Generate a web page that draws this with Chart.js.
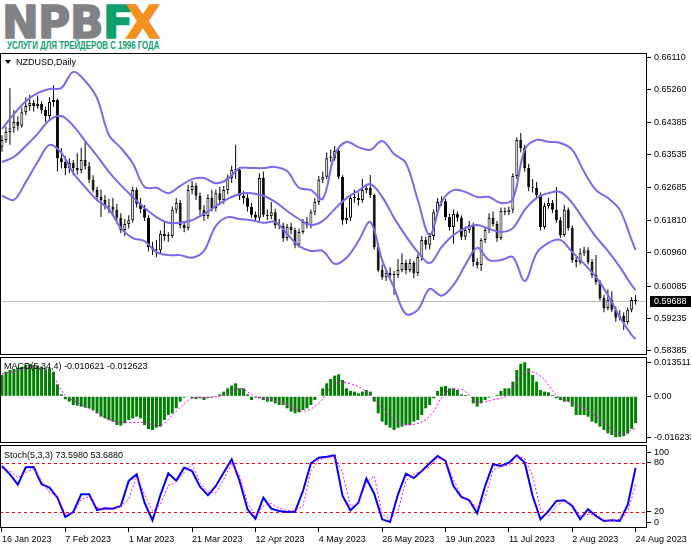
<!DOCTYPE html>
<html lang="ru">
<head>
<meta charset="utf-8">
<title>NZDUSD Daily</title>
<script src="https://cdn.jsdelivr.net/npm/chart.js@4.4.1/dist/chart.umd.min.js"></script>
<style>
  html, body { margin: 0; padding: 0; background: #fff; }
  body { position: relative; width: 691px; height: 549px; overflow: hidden; font-family: 'Liberation Sans', Arial, sans-serif; }
  canvas { position: absolute; left: 0; }
  #chart-main { top: 53px; }
  #chart-macd { top: 357px; }
  #chart-stoch { top: 445px; }
  .lt { position: absolute; top: 1px; font: bold 44px/44px 'DejaVu Sans', sans-serif; color: #808285; -webkit-text-stroke: 1.6px #808285; }
  .lt.f { color: #0e9f6e; -webkit-text-stroke-color: #0e9f6e; }
  .lt.x { color: #f4901e; -webkit-text-stroke-color: #f4901e; }
  .slogan { position: absolute; left: 7px; top: 40px; font: bold 11.5px/11px 'Liberation Sans', Arial, sans-serif; color: #0e9f6e; transform: scaleX(0.685); transform-origin: 0 0; white-space: nowrap; }
  .tag { position: absolute; font-size: 9px; line-height: 9px; color: #000; white-space: nowrap; z-index: 2; }
  .tri { position: absolute; left: 5px; top: 60px; width: 0; height: 0; border-left: 3px solid transparent; border-right: 3px solid transparent; border-top: 4px solid #000; z-index: 2; }
</style>
</head>
<body>
<div class="lt" style="left:2px">N</div>
<div class="lt" style="left:38px">P</div>
<div class="lt" style="left:70px">B</div>
<div class="lt f" style="left:103px">F</div>
<div class="lt x" style="left:126px">X</div>
<div class="slogan">УСЛУГИ ДЛЯ ТРЕЙДЕРОВ С 1996 ГОДА</div>

<canvas id="chart-main" width="691" height="302"></canvas>
<canvas id="chart-macd" width="691" height="86"></canvas>
<canvas id="chart-stoch" width="691" height="104"></canvas>

<div class="tri"></div>
<div class="tag" style="left:16px;top:58px">NZDUSD,Daily</div>
<div class="tag" style="left:4px;top:362px">MACD(5,34,4) -0.010621 -0.012623</div>
<div class="tag" style="left:4px;top:451px">Stoch(5,3,3) 73.5980 53.6880</div>

<script>
/**
 * NZDUSD Daily — velas + Bollinger, MACD(5,34,4) y Stoch(5,3,3), todo con Chart.js.
 * Las velas son barras flotantes: mecha [low, high] y cuerpo [open, close].
 */

// eje de tiempo: índice de barra y fechas rotuladas
const dateTickBars = [0, 16, 32, 48, 64, 80, 96, 112, 128, 144, 160];
const dateLabels = ['16 Jan 2023', '7 Feb 2023', '1 Mar 2023', '21 Mar 2023', '12 Apr 2023', '4 May 2023',
  '26 May 2023', '19 Jun 2023', '11 Jul 2023', '2 Aug 2023', '24 Aug 2023'];

const opens = [
  0.6375, 0.6393, 0.6414, 0.6424, 0.6440, 0.6430, 0.6466, 0.6482, 0.6490, 0.6482,
  0.6488, 0.6472, 0.6456, 0.6493, 0.6498, 0.6345, 0.6335, 0.6319, 0.6332, 0.6319,
  0.6314, 0.6340, 0.6324, 0.6288, 0.6261, 0.6243, 0.6235, 0.6219, 0.6217, 0.6209,
  0.6188, 0.6156, 0.6172, 0.6182, 0.6261, 0.6225, 0.6211, 0.6188, 0.6111, 0.6105,
  0.6103, 0.6146, 0.6140, 0.6140, 0.6209, 0.6227, 0.6169, 0.6161, 0.6261, 0.6272,
  0.6246, 0.6209, 0.6193, 0.6240, 0.6214, 0.6253, 0.6235, 0.6261, 0.6293, 0.6314,
  0.6314, 0.6246, 0.6240, 0.6217, 0.6196, 0.6188, 0.6293, 0.6196, 0.6193, 0.6203,
  0.6169, 0.6167, 0.6135, 0.6164, 0.6156, 0.6117, 0.6151, 0.6177, 0.6169, 0.6203,
  0.6230, 0.6288, 0.6296, 0.6345, 0.6345, 0.6364, 0.6296, 0.6182, 0.6188, 0.6240,
  0.6240, 0.6235, 0.6261, 0.6267, 0.6248, 0.6111, 0.6051, 0.6032, 0.6043, 0.6038,
  0.6038, 0.6051, 0.6069, 0.6051, 0.6069, 0.6043, 0.6085, 0.6130, 0.6117, 0.6140,
  0.6203, 0.6230, 0.6232, 0.6190, 0.6164, 0.6198, 0.6188, 0.6138, 0.6156, 0.6169,
  0.6072, 0.6064, 0.6130, 0.6156, 0.6188, 0.6172, 0.6135, 0.6206, 0.6203, 0.6209,
  0.6298, 0.6393, 0.6372, 0.6319, 0.6269, 0.6267, 0.6248, 0.6164, 0.6219, 0.6227,
  0.6209, 0.6182, 0.6143, 0.6209, 0.6161, 0.6077, 0.6072, 0.6095, 0.6103, 0.6072,
  0.6038, 0.6019, 0.5977, 0.5951, 0.5972, 0.5946, 0.5925, 0.5930, 0.5914, 0.5946,
  0.5972,
];
const highs = [
  0.6405, 0.6428, 0.6529, 0.6472, 0.6455, 0.6478, 0.6505, 0.6512, 0.6498, 0.6510,
  0.6495, 0.6480, 0.6505, 0.6537, 0.6502, 0.6372, 0.6350, 0.6345, 0.6340, 0.6358,
  0.6372, 0.6388, 0.6335, 0.6300, 0.6270, 0.6262, 0.6248, 0.6238, 0.6240, 0.6225,
  0.6200, 0.6185, 0.6195, 0.6270, 0.6268, 0.6240, 0.6222, 0.6195, 0.6125, 0.6130,
  0.6155, 0.6178, 0.6150, 0.6218, 0.6240, 0.6235, 0.6180, 0.6275, 0.6285, 0.6280,
  0.6255, 0.6222, 0.6250, 0.6262, 0.6262, 0.6270, 0.6272, 0.6302, 0.6325, 0.6380,
  0.6322, 0.6258, 0.6250, 0.6228, 0.6205, 0.6305, 0.6310, 0.6210, 0.6230, 0.6212,
  0.6185, 0.6175, 0.6172, 0.6175, 0.6162, 0.6160, 0.6185, 0.6190, 0.6210, 0.6240,
  0.6298, 0.6310, 0.6360, 0.6368, 0.6377, 0.6372, 0.6300, 0.6215, 0.6248, 0.6262,
  0.6255, 0.6290, 0.6278, 0.6301, 0.6252, 0.6120, 0.6065, 0.6050, 0.6058, 0.6048,
  0.6080, 0.6095, 0.6078, 0.6080, 0.6075, 0.6092, 0.6140, 0.6138, 0.6148, 0.6210,
  0.6240, 0.6245, 0.6238, 0.6198, 0.6210, 0.6205, 0.6195, 0.6165, 0.6180, 0.6175,
  0.6082, 0.6135, 0.6162, 0.6200, 0.6205, 0.6180, 0.6215, 0.6215, 0.6218, 0.6305,
  0.6400, 0.6411, 0.6380, 0.6330, 0.6290, 0.6282, 0.6255, 0.6228, 0.6240, 0.6235,
  0.6269, 0.6190, 0.6222, 0.6215, 0.6168, 0.6085, 0.6108, 0.6112, 0.6111, 0.6080,
  0.6090, 0.6025, 0.5985, 0.6000, 0.5995, 0.5955, 0.5945, 0.5940, 0.5952, 0.5980,
  0.5985,
];
const lows = [
  0.6362, 0.6385, 0.6380, 0.6412, 0.6418, 0.6425, 0.6458, 0.6470, 0.6468, 0.6475,
  0.6462, 0.6440, 0.6445, 0.6480, 0.6310, 0.6318, 0.6300, 0.6305, 0.6300, 0.6302,
  0.6305, 0.6315, 0.6280, 0.6255, 0.6232, 0.6190, 0.6210, 0.6200, 0.6195, 0.6180,
  0.6148, 0.6140, 0.6160, 0.6175, 0.6215, 0.6200, 0.6180, 0.6100, 0.6090, 0.6085,
  0.6095, 0.6128, 0.6125, 0.6135, 0.6200, 0.6160, 0.6150, 0.6155, 0.6250, 0.6235,
  0.6195, 0.6180, 0.6185, 0.6205, 0.6205, 0.6222, 0.6225, 0.6250, 0.6280, 0.6290,
  0.6235, 0.6225, 0.6205, 0.6188, 0.6180, 0.6180, 0.6190, 0.6182, 0.6185, 0.6160,
  0.6158, 0.6125, 0.6128, 0.6145, 0.6108, 0.6110, 0.6145, 0.6160, 0.6160, 0.6195,
  0.6222, 0.6280, 0.6290, 0.6335, 0.6338, 0.6290, 0.6170, 0.6172, 0.6180, 0.6228,
  0.6220, 0.6228, 0.6252, 0.6240, 0.6105, 0.6045, 0.6025, 0.6022, 0.6030, 0.5985,
  0.6030, 0.6045, 0.6040, 0.6045, 0.6030, 0.6035, 0.6075, 0.6105, 0.6105, 0.6130,
  0.6195, 0.6220, 0.6182, 0.6155, 0.6120, 0.6178, 0.6130, 0.6130, 0.6148, 0.6060,
  0.6055, 0.6048, 0.6122, 0.6148, 0.6165, 0.6125, 0.6130, 0.6195, 0.6195, 0.6200,
  0.6290, 0.6360, 0.6310, 0.6258, 0.6255, 0.6240, 0.6155, 0.6158, 0.6212, 0.6200,
  0.6175, 0.6135, 0.6138, 0.6155, 0.6070, 0.6058, 0.6065, 0.6088, 0.6065, 0.6030,
  0.6012, 0.5970, 0.5940, 0.5945, 0.5940, 0.5915, 0.5918, 0.5893, 0.5908, 0.5940,
  0.5960,
];
const closes = [
  0.6393, 0.6414, 0.6424, 0.6440, 0.6430, 0.6466, 0.6482, 0.6490, 0.6482, 0.6488,
  0.6472, 0.6456, 0.6493, 0.6498, 0.6345, 0.6335, 0.6319, 0.6332, 0.6319, 0.6314,
  0.6340, 0.6324, 0.6288, 0.6261, 0.6243, 0.6235, 0.6219, 0.6217, 0.6209, 0.6188,
  0.6156, 0.6172, 0.6182, 0.6261, 0.6225, 0.6211, 0.6188, 0.6111, 0.6105, 0.6103,
  0.6146, 0.6140, 0.6140, 0.6209, 0.6227, 0.6169, 0.6161, 0.6261, 0.6272, 0.6246,
  0.6209, 0.6193, 0.6240, 0.6214, 0.6253, 0.6235, 0.6261, 0.6293, 0.6314, 0.6314,
  0.6246, 0.6240, 0.6217, 0.6196, 0.6188, 0.6293, 0.6196, 0.6193, 0.6203, 0.6169,
  0.6167, 0.6135, 0.6164, 0.6156, 0.6117, 0.6151, 0.6177, 0.6169, 0.6203, 0.6230,
  0.6288, 0.6296, 0.6345, 0.6345, 0.6364, 0.6296, 0.6182, 0.6188, 0.6240, 0.6240,
  0.6235, 0.6261, 0.6267, 0.6248, 0.6111, 0.6051, 0.6032, 0.6043, 0.6038, 0.6038,
  0.6051, 0.6069, 0.6051, 0.6069, 0.6043, 0.6085, 0.6130, 0.6117, 0.6140, 0.6203,
  0.6230, 0.6232, 0.6190, 0.6164, 0.6198, 0.6188, 0.6138, 0.6156, 0.6169, 0.6072,
  0.6064, 0.6130, 0.6156, 0.6188, 0.6172, 0.6135, 0.6206, 0.6203, 0.6209, 0.6298,
  0.6393, 0.6372, 0.6319, 0.6269, 0.6267, 0.6248, 0.6164, 0.6219, 0.6227, 0.6209,
  0.6182, 0.6143, 0.6209, 0.6161, 0.6077, 0.6072, 0.6095, 0.6103, 0.6072, 0.6038,
  0.6019, 0.5977, 0.5951, 0.5972, 0.5946, 0.5925, 0.5930, 0.5914, 0.5946, 0.5972,
  0.59688,
];

// Bollinger, leídas cada 3 barras
const bandBars = [0, 3, 6, 9, 12, 15, 18, 21, 24, 27, 30, 33, 36, 39, 42, 45, 48, 51, 54, 57,
  60, 63, 66, 69, 72, 75, 78, 81, 84, 87, 90, 93, 96, 99, 102, 105, 108, 111, 114, 117,
  120, 123, 126, 129, 132, 135, 138, 141, 144, 147, 150, 153, 156, 159, 160];
const bbUpper = [
  0.6422, 0.6461, 0.6495, 0.6516, 0.6527, 0.6530, 0.6572, 0.6548, 0.6503, 0.6406,
  0.6372, 0.6332, 0.6269, 0.6267, 0.6253, 0.6272, 0.6290, 0.6293, 0.6279, 0.6290,
  0.6319, 0.6319, 0.6319, 0.6322, 0.6311, 0.6267, 0.6261, 0.6238, 0.6353, 0.6388,
  0.6374, 0.6367, 0.6390, 0.6356, 0.6332, 0.6235, 0.6143, 0.6230, 0.6261, 0.6256,
  0.6243, 0.6243, 0.6227, 0.6238, 0.6367, 0.6393, 0.6388, 0.6385, 0.6367, 0.6309,
  0.6261, 0.6240, 0.6209, 0.6130, 0.6103,
];
const bbMiddle = [
  0.6335, 0.6348, 0.6377, 0.6409, 0.6445, 0.6456, 0.6430, 0.6390, 0.6351, 0.6309,
  0.6274, 0.6243, 0.6214, 0.6190, 0.6175, 0.6175, 0.6182, 0.6198, 0.6219, 0.6238,
  0.6251, 0.6253, 0.6246, 0.6230, 0.6206, 0.6185, 0.6169, 0.6180, 0.6211, 0.6240,
  0.6259, 0.6277, 0.6243, 0.6188, 0.6140, 0.6098, 0.6069, 0.6111, 0.6143, 0.6161,
  0.6169, 0.6159, 0.6151, 0.6161, 0.6209, 0.6240, 0.6253, 0.6256, 0.6227, 0.6182,
  0.6138, 0.6101, 0.6059, 0.6011, 0.5998,
];
const bbLower = [
  0.6246, 0.6235, 0.6282, 0.6335, 0.6380, 0.6359, 0.6306, 0.6269, 0.6235, 0.6211,
  0.6161, 0.6135, 0.6127, 0.6098, 0.6090, 0.6090, 0.6083, 0.6101, 0.6167, 0.6190,
  0.6185, 0.6182, 0.6175, 0.6177, 0.6146, 0.6114, 0.6101, 0.6101, 0.6067, 0.6083,
  0.6127, 0.6177, 0.6077, 0.6004, 0.5935, 0.5946, 0.6001, 0.5983, 0.6011, 0.6064,
  0.6109, 0.6077, 0.6077, 0.6085, 0.6022, 0.6095, 0.6122, 0.6130, 0.6098, 0.6067,
  0.6032, 0.5985, 0.5927, 0.5880, 0.5869,
];

// MACD: histograma por barra, señal cada 4 barras
const macdMain = [
  0.00846, 0.00978, 0.01044, 0.01084, 0.01137, 0.01177, 0.01243, 0.01269, 0.01243, 0.01216,
  0.01177, 0.01110, 0.01110, 0.00978, 0.00476, 0.00079, -0.00119, -0.00212, -0.00344, -0.00370,
  -0.00410, -0.00450, -0.00476, -0.00542, -0.00674, -0.00806, -0.00873, -0.00939, -0.01005, -0.01137,
  -0.01163, -0.01071, -0.00939, -0.00873, -0.00806, -0.00873, -0.01137, -0.01296, -0.01335, -0.01243,
  -0.01203, -0.00939, -0.00740, -0.00674, -0.00476, -0.00212, -0.00053, -0.00013, -0.00079, -0.00106,
  -0.00079, -0.00145, -0.00079, -0.00053, -0.00013, 0.00079, 0.00185, 0.00317, 0.00423, 0.00516,
  0.00317, 0.00317, 0.00079, -0.00145, -0.00053, -0.00079, -0.00145, -0.00212, -0.00212, -0.00278,
  -0.00344, -0.00344, -0.00476, -0.00608, -0.00674, -0.00635, -0.00542, -0.00476, -0.00344, -0.00145,
  0.00026, 0.00317, 0.00516, 0.00687, 0.00820, 0.00873, 0.00648, 0.00317, 0.00212, 0.00185,
  0.00119, 0.00185, 0.00251, 0.00185, -0.00212, -0.00674, -0.01005, -0.01137, -0.01243, -0.01335,
  -0.01243, -0.01203, -0.01137, -0.01137, -0.01005, -0.00939, -0.00740, -0.00476, -0.00344, -0.00079,
  0.00212, 0.00383, 0.00410, 0.00317, 0.00317, 0.00251, 0.00079, 0.00053, 0.00013, -0.00278,
  -0.00410, -0.00278, -0.00145, -0.00053, -0.00013, 0.00053, 0.00212, 0.00317, 0.00317, 0.00582,
  0.01044, 0.01290, 0.01351, 0.01110, 0.00846, 0.00582, 0.00251, 0.00185, 0.00159, 0.00053,
  -0.00079, -0.00145, -0.00212, -0.00212, -0.00410, -0.00740, -0.00740, -0.00740, -0.00806, -0.01005,
  -0.01071, -0.01203, -0.01335, -0.01467, -0.01534, -0.01623, -0.01610, -0.01580, -0.01480, -0.01290,
  -0.010621,
];
const macdSignalBars = [0, 4, 8, 12, 16, 20, 24, 28, 32, 36, 40, 44, 48, 52, 56, 60, 64, 68, 72, 76,
  80, 84, 88, 92, 96, 100, 104, 108, 112, 116, 120, 124, 128, 132, 136, 140, 144, 148, 152, 156, 160];
const macdSignal = [
  0.0089, 0.0102, 0.0115, 0.0095, 0.0005, -0.0031, -0.0066, -0.0098, -0.0104, -0.0104,
  -0.0114, -0.0059, -0.0008, -0.0005, 0.0005, 0.0031, -0.0001, -0.0012, -0.0034, -0.0059,
  -0.0027, 0.0050, 0.0050, 0.0018, -0.0046, -0.0104, -0.0111, -0.0079, 0.0012, 0.0027,
  -0.0021, -0.0014, 0.0008, 0.0095, 0.0080, 0.0005, -0.0027, -0.0057, -0.0104, -0.0150,
  -0.012623,
];

// Estocástico, leído cada 2 barras
const stochBars = [0, 2, 4, 6, 8, 10, 12, 14, 16, 18, 20, 22, 24, 26, 28, 30, 32, 34, 36, 38,
  40, 42, 44, 46, 48, 50, 52, 54, 56, 58, 60, 62, 64, 66, 68, 70, 72, 74, 76, 78,
  80, 82, 84, 86, 88, 90, 92, 94, 96, 98, 100, 102, 104, 106, 108, 110, 112, 114, 116, 118,
  120, 122, 124, 126, 128, 130, 132, 134, 136, 138, 140, 142, 144, 146, 148, 150, 152, 154, 156, 158, 160];
const stochMain = [
  75.9, 65.7, 53.1, 74.3, 74.7, 53.5, 49.4, 37.1, 13.5, 19.6,
  41.2, 41.2, 22.0, 24.1, 23.7, 26.9, 57.6, 65.7, 31.0, 9.4,
  40.4, 66.9, 58.0, 73.9, 69.8, 50.6, 40.0, 51.4, 67.8, 84.1,
  57.6, 22.9, 11.4, 37.1, 23.7, 20.8, 19.6, 20.0, 45.3, 79.2,
  86.1, 87.3, 89.0, 39.2, 21.6, 31.0, 60.4, 42.0, 10.6, 7.3,
  41.2, 66.5, 61.2, 69.8, 79.2, 88.2, 82.0, 51.4, 38.0, 33.9,
  18.0, 51.4, 78.0, 75.9, 80.0, 89.0, 80.0, 39.2, 10.6, 20.8,
  33.1, 33.9, 26.9, 10.6, 22.9, 14.7, 8.6, 9.4, 8.6, 28.2,
  73.598,
];
const stochSignal = [
  73.1, 69.8, 61.6, 67.8, 72.7, 57.6, 43.3, 39.2, 16.7, 18.0,
  35.1, 38.4, 24.9, 22.9, 22.9, 26.9, 35.1, 62.9, 41.2, 20.8,
  29.0, 52.2, 56.3, 67.8, 78.0, 55.5, 44.1, 43.3, 59.6, 79.2,
  63.7, 31.0, 14.7, 26.9, 30.2, 24.1, 21.6, 20.8, 26.9, 69.8,
  83.3, 86.1, 87.3, 67.8, 26.1, 31.0, 55.5, 63.7, 16.7, 10.6,
  20.8, 57.6, 65.7, 69.8, 75.1, 86.1, 82.0, 59.6, 39.2, 33.1,
  24.9, 37.1, 71.0, 75.9, 76.7, 88.2, 84.9, 63.7, 22.9, 14.7,
  26.9, 33.1, 29.0, 14.7, 16.7, 16.7, 9.8, 8.6, 10.6, 18.8,
  53.688,
];

// etiquetas de los ejes de precio
const priceTicks = [0.66110, 0.65260, 0.64385, 0.63535, 0.62685, 0.61810, 0.60960, 0.60085, 0.59235, 0.58385];
const macdTickValues = [0.013511, 0, -0.016233];
const macdTickLabels = ['0.013511', '0.00', '-0.016233'];
const stochTickValues = [93, 80, 20, 7.3];
const stochTickLabels = ['100', '80', '20', '0'];
const stochLevels = [20, 80];
const lastPrice = closes[closes.length - 1];

const FONT = { family: "'Liberation Sans', Arial, sans-serif", size: 9 };
const X_MIN = -0.505;
const X_MAX = 162.88;
const AXIS_W = 44;

const framePlugin = {
  id: 'frame',
  afterDraw(chart) {
    const { ctx, chartArea: a } = chart;
    ctx.save();
    ctx.strokeStyle = '#000';
    ctx.lineWidth = 1;
    ctx.strokeRect(a.left + 0.5, a.top + 0.5, a.width - 1, a.height - 1);
    ctx.restore();
  },
};

const lastPricePlugin = {
  id: 'lastPrice',
  beforeDatasetsDraw(chart) {
    const { ctx, chartArea: a } = chart;
    const y = Math.round(chart.scales.y.getPixelForValue(lastPrice)) + 0.5;
    ctx.save();
    ctx.strokeStyle = '#c0c0c0';
    ctx.beginPath();
    ctx.moveTo(a.left, y);
    ctx.lineTo(a.right, y);
    ctx.stroke();
    ctx.restore();
  },
  afterDraw(chart) {
    const { ctx, chartArea: a } = chart;
    const y = Math.round(chart.scales.y.getPixelForValue(lastPrice));
    ctx.save();
    ctx.fillStyle = '#000';
    ctx.fillRect(a.right + 3, y - 5, chart.width - a.right - 3, 11);
    ctx.fillStyle = '#fff';
    ctx.font = "9px 'Liberation Sans', Arial, sans-serif";
    ctx.textBaseline = 'middle';
    ctx.fillText(lastPrice.toFixed(5), a.right + 7, y + 0.5);
    ctx.restore();
  },
};

const levelsPlugin = {
  id: 'levels',
  beforeDatasetsDraw(chart) {
    const { ctx, chartArea: a } = chart;
    ctx.save();
    ctx.strokeStyle = '#ff0000';
    ctx.setLineDash([3, 3]);
    stochLevels.forEach((lv) => {
      const y = Math.round(chart.scales.y.getPixelForValue(lv)) + 0.5;
      ctx.beginPath();
      ctx.moveTo(a.left, y);
      ctx.lineTo(a.right, y);
      ctx.stroke();
    });
    ctx.restore();
  },
};

function xAxis(show) {
  const axis = {
    type: 'linear', min: X_MIN, max: X_MAX, offset: false, display: show,
    grid: { drawOnChartArea: false, offset: false, tickLength: 4, color: '#000' },
    border: { display: false },
  };
  if (show) {
    axis.afterBuildTicks = (s) => { s.ticks = dateTickBars.map((v) => ({ value: v })); };
    axis.afterFit = (s) => { s.height = 21; s.paddingLeft = 0; s.paddingRight = 0; };
    axis.ticks = {
      font: FONT, color: '#000', padding: 2, align: 'start', maxRotation: 0, minRotation: 0,
      autoSkip: false, callback: (v, idx) => dateLabels[idx],
    };
  }
  return axis;
}

function yAxis(min, max, values, label) {
  return {
    position: 'right', min, max,
    afterBuildTicks: (s) => { s.ticks = values.map((v) => ({ value: v })); },
    afterFit: (s) => { s.width = AXIS_W; s.paddingTop = 0; s.paddingBottom = 0; },
    grid: { drawOnChartArea: false, tickLength: 4, color: '#000' },
    border: { display: false },
    ticks: { font: FONT, color: '#000', padding: 3, autoSkip: false, callback: label },
  };
}

function baseOptions(scales) {
  return {
    responsive: false, animation: false, devicePixelRatio: 1, events: [],
    layout: { padding: 0 },
    plugins: { legend: { display: false }, tooltip: { enabled: false } },
    scales,
  };
}

function bandLine(values) {
  return {
    type: 'line',
    data: bandBars.map((b, k) => ({ x: b, y: values[k] })),
    borderColor: '#7b68ee', borderWidth: 2, pointRadius: 0, tension: 0.35, order: 1,
  };
}

const idx = closes.map((_, i) => i);

new Chart(document.getElementById('chart-main'), {
  type: 'bar',
  data: {
    datasets: [
      {
        label: 'wick',
        data: idx.map((i) => ({ x: i, y: [lows[i], highs[i]] })),
        backgroundColor: '#000', barThickness: 1, inflateAmount: 0, grouped: false, order: 3,
      },
      {
        label: 'body',
        data: idx.map((i) => ({ x: i, y: [opens[i], closes[i]] })),
        backgroundColor: idx.map((i) => (closes[i] >= opens[i] ? '#fff' : '#000')),
        borderColor: '#000', borderWidth: 1, borderSkipped: false, minBarLength: 1,
        barThickness: 3, inflateAmount: 0, grouped: false, order: 2,
      },
      bandLine(bbUpper),
      bandLine(bbMiddle),
      bandLine(bbLower),
    ],
  },
  options: baseOptions({
    x: xAxis(false),
    y: yAxis(0.58273, 0.66216, priceTicks, (v) => Number(v).toFixed(5)),
  }),
  plugins: [lastPricePlugin, framePlugin],
});

new Chart(document.getElementById('chart-macd'), {
  type: 'bar',
  data: {
    datasets: [
      {
        type: 'line',
        data: macdSignalBars.map((b, k) => ({ x: b, y: macdSignal[k] })),
        borderColor: '#ff00ff', borderWidth: 1, borderDash: [2, 2], pointRadius: 0, tension: 0.4, order: 1,
      },
      {
        data: macdMain.map((v, i) => ({ x: i, y: v })),
        backgroundColor: '#008000', barThickness: 3, inflateAmount: 0, grouped: false, order: 2,
      },
    ],
  },
  options: baseOptions({
    x: xAxis(false),
    y: yAxis(-0.01852, 0.01559, macdTickValues, (v, i) => macdTickLabels[i]),
  }),
  plugins: [framePlugin],
});

new Chart(document.getElementById('chart-stoch'), {
  type: 'line',
  data: {
    datasets: [
      {
        data: stochBars.map((b, k) => ({ x: b, y: stochSignal[k] })),
        borderColor: '#ff00ff', borderWidth: 1, borderDash: [2, 2], pointRadius: 0, tension: 0,
      },
      {
        data: stochBars.map((b, k) => ({ x: b, y: stochMain[k] })),
        borderColor: '#0000ff', borderWidth: 2, pointRadius: 0, tension: 0,
      },
    ],
  },
  options: baseOptions({
    x: xAxis(true),
    y: yAxis(0, 101.6, stochTickValues, (v, i) => stochTickLabels[i]),
  }),
  plugins: [levelsPlugin, framePlugin],
});
</script>
</body>
</html>
